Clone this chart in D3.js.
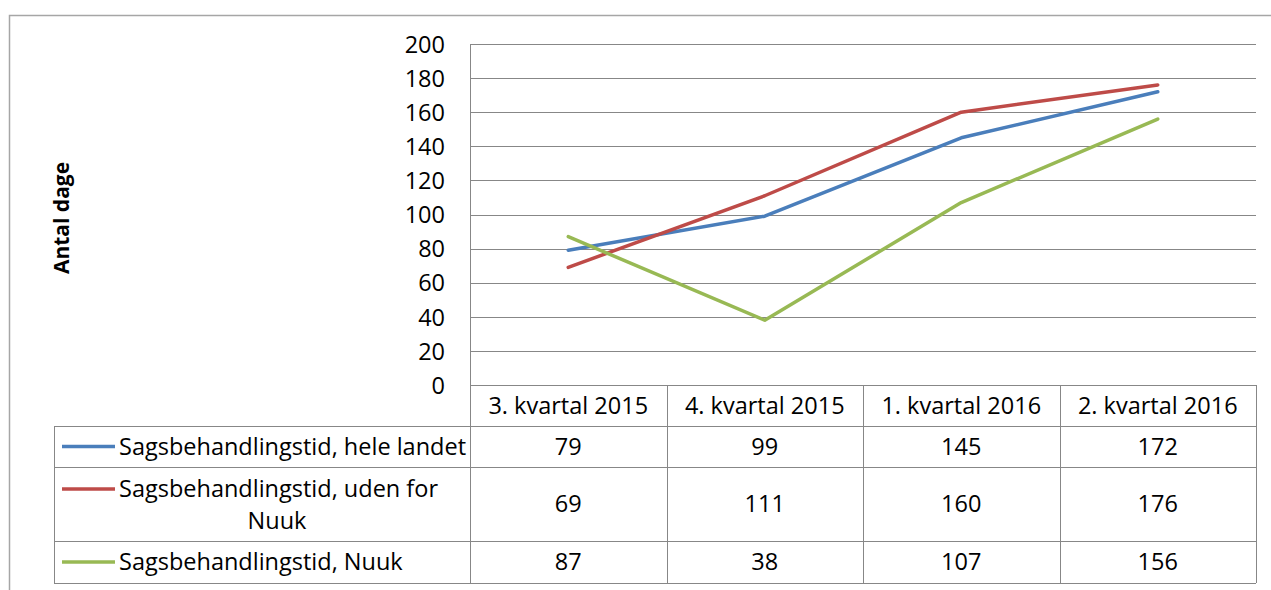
<!DOCTYPE html>
<html><head><meta charset="utf-8">
<script src="https://cdnjs.cloudflare.com/ajax/libs/d3/7.8.5/d3.min.js"></script>
<style>html,body{margin:0;padding:0;background:#fff;}svg{display:block;}</style>
</head><body>
<script>
const categories = ["3. kvartal 2015", "4. kvartal 2015", "1. kvartal 2016", "2. kvartal 2016"];
const seriesNames = ["Sagsbehandlingstid, hele landet", "Sagsbehandlingstid, uden for Nuuk", "Sagsbehandlingstid, Nuuk"];
const heleLandet = [79, 99, 145, 172];
const udenForNuuk = [69, 111, 160, 176];
const nuuk = [87, 38, 107, 156];
const yTicks = [0, 20, 40, 60, 80, 100, 120, 140, 160, 180, 200];
const yTitle = "Antal dage";
const colors = ["#4A7EBB", "#BE4B48", "#98B954"];

const W = 1271, H = 590;
const FONT = "'Open Sans', sans-serif";
const FS = 23.5;
const grid = "#878787";
const svg = d3.select("body").append("svg").attr("width", W).attr("height", H);

// outer chart border (cropped at right and bottom)
svg.append("path").attr("d", `M9.5,${H+2} L9.5,15.5 L${W+2},15.5`).attr("fill","none").attr("stroke","#a6a6a6").attr("stroke-width",1.5);

const x = d3.scaleBand().domain(categories).range([470, 1256]);
const y = d3.scaleLinear().domain([0, 200]).range([385, 44]);

// gridlines
svg.append("g").selectAll("line").data(yTicks).join("line")
  .attr("x1", 470).attr("x2", 1256).attr("y1", d => Math.round(y(d))+0.5).attr("y2", d => Math.round(y(d))+0.5)
  .attr("stroke", grid).attr("stroke-width", 1);

// y axis labels
const yAxis = d3.axisLeft(y).tickValues(yTicks).tickSize(0).tickPadding(0);
const ga = svg.append("g").attr("transform", "translate(445,0)").call(yAxis);
ga.select(".domain").remove();
ga.selectAll("text").attr("font-family", FONT).attr("font-size", FS).attr("fill", "#000").attr("dy", "0.35em");

// y title
svg.append("text").attr("transform", "translate(69,218) rotate(-90)").attr("text-anchor","middle")
  .attr("font-family", FONT).attr("font-size", 21).attr("font-weight", "bold").text(yTitle);

// table rows
const rows = [
  {top: 426, bot: 467, vals: heleLandet, lines: [seriesNames[0]]},
  {top: 467, bot: 541, vals: udenForNuuk, lines: ["Sagsbehandlingstid, uden for", "Nuuk"]},
  {top: 541, bot: 583, vals: nuuk, lines: [seriesNames[2]]}
];

const tb = svg.append("g").attr("stroke", grid).attr("stroke-width", 1).attr("fill","none");
// vertical axis line
tb.append("line").attr("x1", 470.5).attr("x2", 470.5).attr("y1", 44).attr("y2", 583);
// column dividers
x.domain().forEach((c, i) => {
  const xr = Math.round(x(c) + x.bandwidth()) + 0.5;
  tb.append("line").attr("x1", xr).attr("x2", xr).attr("y1", 385).attr("y2", 583);
});
// horizontal lines
tb.append("line").attr("x1", 54).attr("x2", 1256).attr("y1", 426.5).attr("y2", 426.5);
rows.forEach(r => tb.append("line").attr("x1", 54).attr("x2", 1256).attr("y1", r.bot + 0.5).attr("y2", r.bot + 0.5));
tb.append("line").attr("x1", 54.5).attr("x2", 54.5).attr("y1", 426).attr("y2", 583);

// header text
svg.append("g").selectAll("text").data(categories).join("text")
  .attr("x", d => x(d) + x.bandwidth()/2).attr("y", 406).attr("dy","0.35em")
  .attr("text-anchor","middle").attr("font-family", FONT).attr("font-size", FS).text(d => d);

rows.forEach((r, i) => {
  const cy = (r.top + r.bot) / 2;
  svg.append("g").selectAll("text").data(r.vals).join("text")
    .attr("x", (d, j) => x(categories[j]) + x.bandwidth()/2).attr("y", cy).attr("dy","0.35em")
    .attr("text-anchor","middle").attr("font-family", FONT).attr("font-size", FS).text(d => d);
  // legend key
  const ky = r.lines.length > 1 ? cy - 15 : cy;
  svg.append("line").attr("x1", 62).attr("x2", 115).attr("y1", ky).attr("y2", ky)
    .attr("stroke", colors[i]).attr("stroke-width", 3.5);
  if (r.lines.length === 1) {
    svg.append("text").attr("x", 119).attr("y", cy).attr("dy","0.35em")
      .attr("font-family", FONT).attr("font-size", FS).text(r.lines[0]);
  } else {
    svg.append("text").attr("x", 119).attr("y", cy - 15).attr("dy","0.35em")
      .attr("font-family", FONT).attr("font-size", FS).text(r.lines[0]);
    svg.append("text").attr("x", 277).attr("y", cy + 17).attr("dy","0.35em").attr("text-anchor","middle")
      .attr("font-family", FONT).attr("font-size", FS).text(r.lines[1]);
  }
});

// series lines
const line = d3.line().x((d, j) => x(categories[j]) + x.bandwidth()/2).y(d => y(d));
[heleLandet, udenForNuuk, nuuk].forEach((s, i) => {
  svg.append("path").datum(s).attr("d", line).attr("fill","none")
    .attr("stroke", colors[i]).attr("stroke-width", 3.5).attr("stroke-linejoin","round").attr("stroke-linecap","round");
});
</script>
</body></html>
